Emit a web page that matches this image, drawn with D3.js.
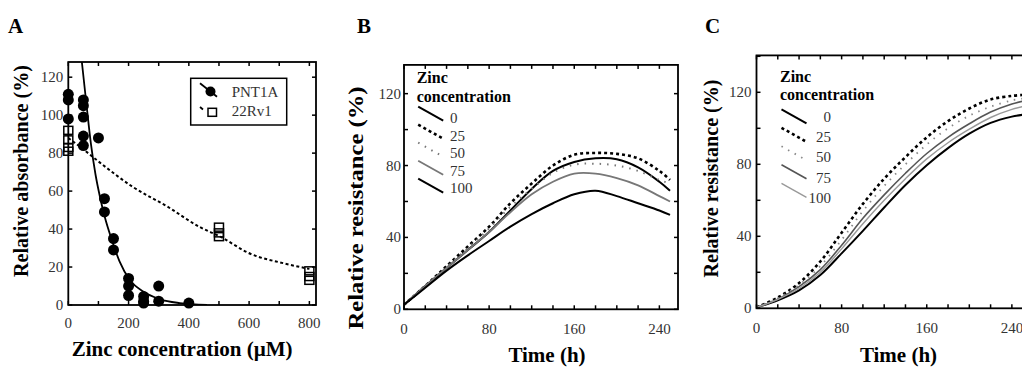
<!DOCTYPE html>
<html>
<head>
<meta charset="utf-8">
<script src="https://cdn.jsdelivr.net/npm/d3@7"></script>
<style>
  body { margin: 0; background: #fff; }
  svg { display: block; font-family: "Liberation Serif", "Times New Roman", serif; }
</style>
</head>
<body>
<script>
// ---- panel A: viability vs zinc ----
const pntX = [0, 0, 0, 50, 50, 50, 50, 50, 100, 120, 120, 150, 150, 200, 200, 200, 250, 250, 250, 300, 300, 400];
const pntY = [111, 108, 98, 108, 105, 99, 89, 84, 88, 56, 49, 35, 29, 14, 10, 5, 4.5, 2, 1, 10, 2, 1];
const rvX = [0, 0, 0, 0, 500, 500, 500, 800, 800, 800];
const rvY = [92, 87, 83, 81, 41, 38, 36, 18, 15, 13];
const pntFitX = [45, 60, 75, 90, 105, 120, 145, 170, 205, 250, 305, 370, 460];
const pntFitY = [128, 106, 85, 69, 57, 47, 34, 23, 13, 7, 3, 1, 0];
const rvFitX = [0, 50, 105, 216, 327, 437, 504, 604, 714, 800];
const rvFitY = [88, 82, 75, 62, 52, 41, 36, 27, 22, 19];

// ---- panels B and C: resistance vs time ----
const hours = [0, 20, 40, 60, 80, 100, 120, 140, 160, 180, 200, 220, 240, 250];
const zincLevels = ["0", "25", "50", "75", "100"];
const resB = [
  [2.5, 13, 23, 33, 43, 55, 67, 77, 82, 84, 83.5, 79, 71, 66],
  [2.5, 13, 24, 35, 46, 59, 70, 80, 86, 87, 86.5, 84, 77, 72],
  [2.5, 13, 23.5, 34, 45, 57, 67, 76, 80.5, 81, 80, 77, 72, 70],
  [2.5, 13, 23, 33, 43, 54, 64, 71, 75.5, 75.5, 73, 69, 63, 60],
  [2.5, 12, 21.5, 30, 38, 46, 53, 59, 64, 66, 63, 59, 55, 52.5]
];
const resC = [
  [0.5, 4.5, 10, 18.5, 30.5, 43, 56, 68.5, 79.5, 89, 97, 103, 106.5, 107.5],
  [0.5, 6, 14, 26, 42, 58, 72, 84, 95, 104, 111, 116, 118, 118.5],
  [0.5, 5.5, 13, 23.5, 38, 54, 68, 80, 91, 100, 107, 112, 115.5, 116.5],
  [0.5, 5, 12, 21.5, 35, 50, 63, 75, 86, 95, 102.5, 109, 113.5, 115],
  [0.5, 5, 11, 20, 33, 47, 60, 72, 83, 92, 99.5, 106, 110.5, 112]
];

const stylesB = [
  { stroke: "#000", width: 2, dash: null },
  { stroke: "#000", width: 2.6, dash: "3,3" },
  { stroke: "#777", width: 2, dash: "1.5,6" },
  { stroke: "#777", width: 1.8, dash: null },
  { stroke: "#000", width: 2, dash: null }
];
const stylesC = [
  { stroke: "#000", width: 2, dash: null },
  { stroke: "#000", width: 2.6, dash: "3,3" },
  { stroke: "#888", width: 1.8, dash: "1.5,6" },
  { stroke: "#555", width: 1.6, dash: null },
  { stroke: "#999", width: 1.4, dash: null }
];

const svg = d3.select("body").append("svg").attr("width", 1022).attr("height", 367);

function frame(g, x, y, o) {
  const [x0, x1] = x.range();
  const [y0, y1] = y.range();
  const tick = 4;
  const ax = g.append("g").attr("font-size", 15).attr("fill", "#333");
  // ticks, all pointing inward
  o.xTicks.forEach(v => {
    ax.append("line").attr("x1", x(v)).attr("x2", x(v)).attr("y1", y0).attr("y2", y0 - tick).attr("stroke", "#000").attr("stroke-width", 1.5);
    ax.append("line").attr("x1", x(v)).attr("x2", x(v)).attr("y1", y1).attr("y2", y1 + tick).attr("stroke", "#000").attr("stroke-width", 1.5);
  });
  o.yTicks.forEach(v => {
    ax.append("line").attr("x1", x0).attr("x2", x0 + tick).attr("y1", y(v)).attr("y2", y(v)).attr("stroke", "#000").attr("stroke-width", 1.5);
    ax.append("line").attr("x1", x1).attr("x2", x1 - tick).attr("y1", y(v)).attr("y2", y(v)).attr("stroke", "#000").attr("stroke-width", 1.5);
  });
  o.xLabels.forEach(v => {
    ax.append("text").attr("x", x(v)).attr("y", y0 + o.xLabelDy).attr("text-anchor", "middle").text(v);
  });
  o.yLabels.forEach(v => {
    ax.append("text").attr("x", x0 - o.yLabelDx).attr("y", y(v) + 5).attr("text-anchor", "end").text(v);
  });
  g.append("rect").attr("x", x0).attr("y", y1).attr("width", x1 - x0).attr("height", y0 - y1)
    .attr("fill", "none").attr("stroke", "#000").attr("stroke-width", 1.8);
  g.append("text").attr("x", (x0 + x1) / 2 + (o.xTitleDx || 0)).attr("y", o.xTitleY)
    .attr("text-anchor", "middle").attr("font-weight", "bold").attr("font-size", 21).text(o.xTitle);
  const yt = g.append("text").attr("transform", `translate(${o.yTitleX},${o.yTitleCy}) rotate(-90)`)
    .attr("text-anchor", "middle").attr("font-weight", "bold").attr("font-size", 21).text(o.yTitle);
  // the source panels were scaled unevenly, so the rotated titles are stretched
  if (o.yTitleLen) yt.attr("textLength", o.yTitleLen).attr("lengthAdjust", "spacingAndGlyphs");
  g.append("text").attr("x", o.letterX).attr("y", 33).attr("font-weight", "bold").attr("font-size", 21).text(o.letter);
}

// ---------- Panel A ----------
{
  const g = svg.append("g");
  const x = d3.scaleLinear().domain([0, 822]).range([68.3, 316]);
  const y = d3.scaleLinear().domain([0, 128]).range([305, 62]);
  g.append("clipPath").attr("id", "clipA").append("rect")
    .attr("x", 68.3).attr("y", 62).attr("width", 316 - 68.3).attr("height", 305 - 62);
  const line = d3.line().x(d => x(d[0])).y(d => y(d[1])).curve(d3.curveMonotoneX);
  g.append("path").datum(d3.zip(rvFitX, rvFitY)).attr("d", line).attr("clip-path", "url(#clipA)")
    .attr("fill", "none").attr("stroke", "#000").attr("stroke-width", 2).attr("stroke-dasharray", "3,2.5");
  g.append("path").datum(d3.zip(pntFitX, pntFitY)).attr("d", line).attr("clip-path", "url(#clipA)")
    .attr("fill", "none").attr("stroke", "#000").attr("stroke-width", 1.8);
  g.selectAll("rect.sq").data(d3.zip(rvX, rvY)).join("rect").attr("class", "sq")
    .attr("x", d => x(d[0]) - 4.5).attr("y", d => y(d[1]) - 4).attr("width", 9).attr("height", 8)
    .attr("fill", "none").attr("stroke", "#000").attr("stroke-width", 1.5);
  g.selectAll("circle").data(d3.zip(pntX, pntY)).join("circle")
    .attr("cx", d => x(d[0])).attr("cy", d => y(d[1])).attr("r", 5.5).attr("fill", "#000");
  frame(g, x, y, {
    xTicks: d3.range(0, 801, 100), yTicks: d3.range(0, 121, 20),
    xLabels: d3.range(0, 801, 200), yLabels: d3.range(0, 121, 20),
    xLabelDy: 23, yLabelDx: 5,
    xTitle: "Zinc concentration (\u00b5M)", xTitleY: 356, xTitleDx: -10,
    yTitle: "Relative absorbance (%)", yTitleX: 28, yTitleCy: 171, yTitleLen: 212,
    letter: "A", letterX: 8
  });
  // legend
  const lg = g.append("g");
  lg.append("rect").attr("x", 190.7).attr("y", 78.3).attr("width", 96).attr("height", 46.7)
    .attr("fill", "#fff").attr("stroke", "#000").attr("stroke-width", 1.5);
  lg.append("line").attr("x1", 200).attr("y1", 83.3).attr("x2", 217).attr("y2", 96.7).attr("stroke", "#000").attr("stroke-width", 1.8);
  lg.append("circle").attr("cx", 210.5).attr("cy", 91.5).attr("r", 5).attr("fill", "#000");
  lg.append("line").attr("x1", 200).attr("y1", 107).attr("x2", 203).attr("y2", 109.5).attr("stroke", "#000").attr("stroke-width", 1.8);
  lg.append("rect").attr("x", 208).attr("y", 108.3).attr("width", 8.5).attr("height", 8).attr("fill", "none").attr("stroke", "#000").attr("stroke-width", 1.5);
  lg.append("text").attr("x", 231.7).attr("y", 97).attr("font-size", 15).attr("fill", "#333").text("PNT1A");
  lg.append("text").attr("x", 231.7).attr("y", 116).attr("font-size", 15).attr("fill", "#333").text("22Rv1");
}

function resistancePanel(o) {
  const g = svg.append("g");
  const x = d3.scaleLinear().domain([0, 257.5]).range(o.xr);
  const y = d3.scaleLinear().domain([0, o.ymax]).range(o.yr);
  const line = d3.line().x((d, i) => x(hours[i])).y(d => y(d)).curve(d3.curveCatmullRom.alpha(0.5));
  o.data.forEach((s, k) => {
    const st = o.styles[k];
    g.append("path").datum(s).attr("d", line).attr("fill", "none")
      .attr("stroke", st.stroke).attr("stroke-width", st.width)
      .attr("stroke-dasharray", st.dash);
  });
  frame(g, x, y, {
    xTicks: d3.range(0, 257, 20), yTicks: d3.range(0, o.ymax, 20),
    xLabels: [0, 80, 160, 240], yLabels: [0, 40, 80, 120],
    xLabelDy: 25, yLabelDx: o.yLabelDx,
    xTitle: "Time (h)", xTitleY: 362, xTitleDx: o.xTitleDx,
    yTitle: "Relative resistance (%)", yTitleX: o.yTitleX, yTitleCy: o.yTitleCy, yTitleLen: o.yTitleLen,
    letter: o.letter, letterX: o.letterX
  });
  // legend
  const lg = g.append("g");
  lg.append("text").attr("x", o.lx).attr("y", o.ly).attr("font-weight", "bold").attr("font-size", 16).text("Zinc");
  lg.append("text").attr("x", o.lx).attr("y", o.ly + 18.5).attr("font-weight", "bold").attr("font-size", 16).text("concentration");
  zincLevels.forEach((z, k) => {
    const st = o.styles[k];
    const yy = o.rowY0 + k * o.rowH;
    lg.append("line").attr("x1", o.lx + 1.5).attr("y1", yy).attr("x2", o.lx + 26.5).attr("y2", yy + 14)
      .attr("stroke", st.stroke).attr("stroke-width", st.width).attr("stroke-dasharray", st.dash);
    lg.append("text").attr("x", o.tx).attr("y", o.ty0 + k * o.tRowH).attr("text-anchor", o.tAnchor)
      .attr("font-size", 15).attr("fill", "#333").text(z);
  });
}

resistancePanel({
  data: resB, styles: stylesB, xr: [404, 678], ymax: 136, yr: [309.3, 64.9],
  yLabelDx: 3, xTitleDx: 6, yTitleX: 363, yTitleCy: 208, yTitleLen: 243, letter: "B", letterX: 357,
  lx: 416.7, ly: 83, rowY0: 106.7, rowH: 18, tx: 450, ty0: 123, tRowH: 17.6, tAnchor: "start"
});
resistancePanel({
  data: resC, styles: stylesC, xr: [756.5, 1030.5], ymax: 140.5, yr: [308.3, 55.4],
  yLabelDx: 5, xTitleDx: 5, yTitleX: 718, yTitleCy: 178.5, yTitleLen: 198, letter: "C", letterX: 705,
  lx: 780, ly: 81.5, rowY0: 109.3, rowH: 18.5, tx: 831, ty0: 122, tRowH: 20.2, tAnchor: "end"
});
</script>
</body>
</html>
